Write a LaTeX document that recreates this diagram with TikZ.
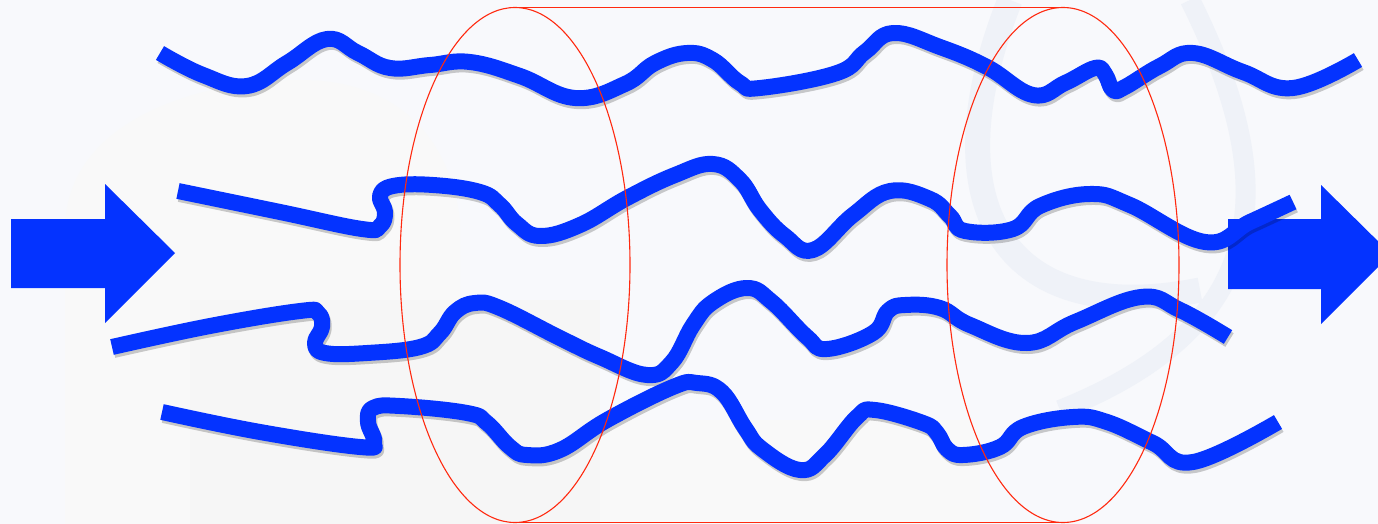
\documentclass[tikz,border=0pt]{standalone}
\begin{document}
\begin{tikzpicture}[x=1pt,y=-1pt,
  wave/.style={line width=16pt,draw=waveblue,line cap=butt,line join=round},
  waveshadow/.style={line width=16pt,draw=black,opacity=0.2,line cap=butt,line join=round},
  bigarrow/.style={fill=waveblue},
  rim/.style={draw=rimred,line width=1.1pt}]
\definecolor{waveblue}{HTML}{0433FF}
\definecolor{rimred}{HTML}{FF2A10}
\definecolor{bgc}{HTML}{F8F9FC}
\definecolor{arcc}{HTML}{EFF2F8}
\useasboundingbox (0,0) rectangle (1378,524);
\clip (0,0) rectangle (1378,524);
\fill[bgc] (0,0) rectangle (1378,524);
% faint background photo shapes
\fill[gray!5] (65,524) -- (65,230) .. controls (65,120) and (200,80) .. (300,80) .. controls (400,80) and (450,140) .. (460,220) -- (460,524) -- cycle;
\fill[gray!7] (190,524) -- (190,300) -- (600,300) -- (600,524) -- cycle;
\fill[gray!5] (600,420) rectangle (980,524);
\draw[arcc,line width=25pt] (1010,0) .. controls (930,200) and (1000,330) .. (1200,290);
\draw[arcc,line width=20pt] (1190,0) .. controls (1290,200) and (1260,330) .. (1060,410);
% arrows
\fill[bigarrow] (11,219) -- (105,219) -- (105,184) -- (175,253) -- (105,323) -- (105,288) -- (11,288) -- cycle;
\fill[bigarrow] (1228,219) -- (1321,219) -- (1321,185) -- (1391,254) -- (1321,324) -- (1321,289) -- (1228,289) -- cycle;
% waves
\def\waveA{plot[smooth,tension=0.7] coordinates {(160,53) (203,75) (247,86) (287,63) (327,39) (358,53) (390,68) (430,65) (470,62) (520,76) (575,98) (625,84) (655,63) (687,53) (713,60) (740,83) (760,88) (837,73) (865,52) (893,33) (940,47) (987,67) (1033,95) (1065,83) (1095,68) (1105,74) (1113,90) (1125,87) (1160,66) (1193,53) (1243,72) (1293,88) (1358,60)}}
\def\waveB{plot[smooth,tension=0.7] coordinates {(178,191) (280,212) (362,229) (380,226) (385,212) (380,196) (393,186) (433,185) (480,192) (500,205) (517,224) (540,236) (580,225) (627,198) (675,175) (713,164) (740,180) (760,210) (785,236) (813,250) (853,215) (890,191) (930,199) (950,216) (965,231) (1013,229) (1040,206) (1090,194) (1130,205) (1205,242) (1250,222) (1293,202)}}
\def\waveC{plot[smooth,tension=0.7] coordinates {(112,347) (210,326) (300,311) (318,313) (322,327) (315,343) (325,353) (367,353) (420,347) (440,333) (455,312) (475,303) (500,308) (560,338) (600,357) (647,375) (672,362) (693,325) (713,302) (747,288) (772,302) (807,337) (827,349) (873,333) (888,311) (905,305) (940,308) (970,325) (1027,343) (1075,322) (1141,297) (1180,310) (1228,337)}}
\def\waveD{plot[smooth,tension=0.7] coordinates {(162,412) (260,432) (360,447) (374,442) (368,422) (373,408) (400,406) (467,413) (487,423) (510,447) (527,455) (560,450) (607,420) (673,387) (697,383) (722,392) (745,428) (762,449) (800,470) (825,455) (857,417) (875,410) (923,423) (937,433) (947,449) (963,455) (1000,447) (1023,427) (1073,417) (1107,422) (1153,443) (1193,462) (1278,422)}}
\begin{scope}[shift={(1.5,3)}]
\draw[waveshadow] \waveA; \draw[waveshadow] \waveB; \draw[waveshadow] \waveC; \draw[waveshadow] \waveD;
\end{scope}
\draw[wave] \waveA;
\draw[wave] \waveB;
\draw[wave] \waveC;
\draw[wave] \waveD;
% cylinder outline
\draw[rim] (515,265) ellipse [x radius=115, y radius=257.5];
\draw[rim] (1063,265) ellipse [x radius=116, y radius=257.5];
\draw[rim] (515,7.5) -- (1063,7.5);
\draw[rim] (515,522.5) -- (1063,522.5);
\end{tikzpicture}
\end{document}
